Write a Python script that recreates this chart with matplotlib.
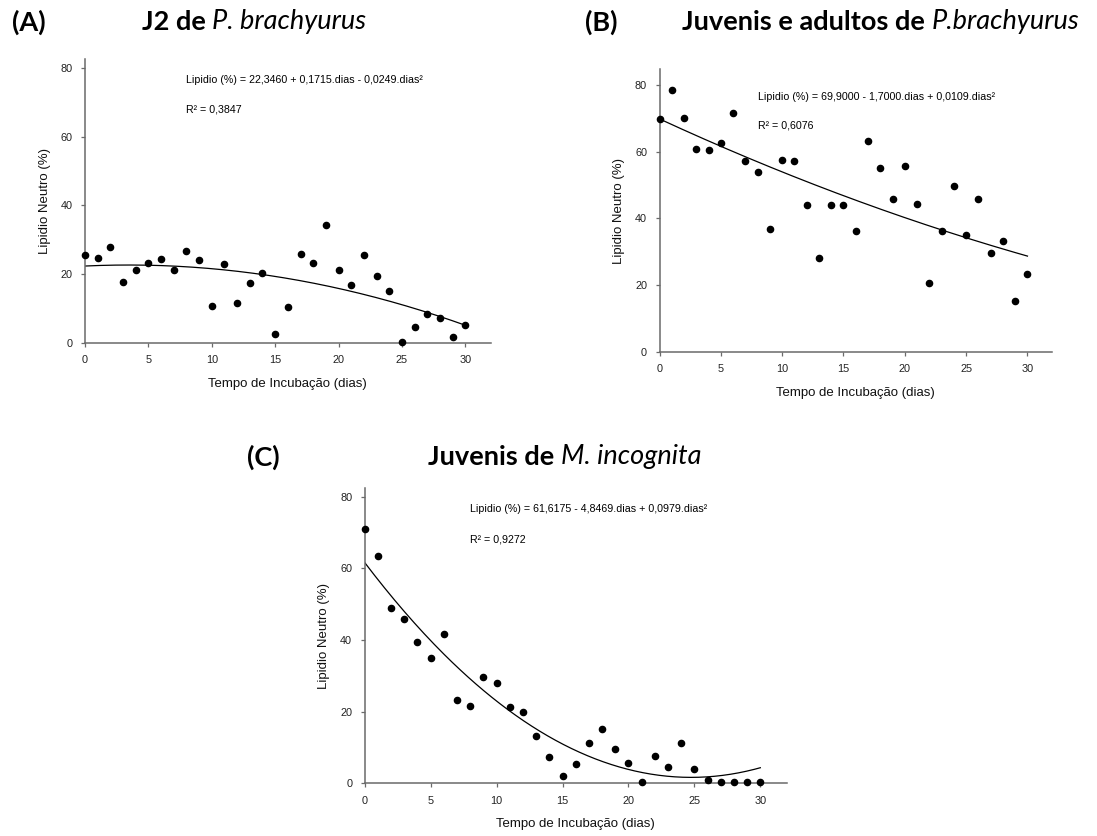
import numpy as np
import matplotlib
matplotlib.use('Agg')
import matplotlib.pyplot as plt

plt.rcParams['font.family'] = ['Liberation Sans', 'DejaVu Sans']

# ---- data ----
dias = np.arange(0, 31)

lip_a = [25.7, 24.7, 28.0, 17.7, 21.1, 23.2, 24.3, 21.1, 26.7, 24.1, 10.6,
         23.0, 11.6, 17.5, 20.4, 2.6, 10.4, 25.8, 23.3, 34.2, 21.2, 16.7,
         25.7, 19.3, 15.1, 0.2, 4.5, 8.5, 7.3, 1.8, 5.3]
lip_b = [69.8, 78.7, 70.2, 60.8, 60.6, 62.6, 71.7, 57.4, 54.0, 36.7, 57.7,
         57.4, 44.1, 28.2, 44.1, 44.1, 36.1, 63.2, 55.2, 45.8, 55.8, 44.3,
         20.6, 36.1, 49.8, 34.9, 45.9, 29.7, 33.1, 15.3, 23.2]
lip_c = [70.9, 63.4, 48.8, 45.9, 39.3, 34.9, 41.6, 23.2, 21.6, 29.7, 27.9,
         21.2, 19.8, 13.2, 7.2, 2.1, 5.4, 11.2, 15.0, 9.6, 5.6, 0.2,
         7.6, 4.5, 11.2, 4.1, 1.0, 0.2, 0.2, 0.2, 0.2]

# fitted quadratic coefficients (b0, b1, b2) printed on the chart
coef_a = [22.3460, 0.1715, -0.0249]
coef_b = [69.9000, -1.7000, 0.0109]
coef_c = [61.6175, -4.8469, 0.0979]

eq_a = 'Lipidio (%) = 22,3460 + 0,1715.dias - 0,0249.dias\u00b2'
eq_b = 'Lipidio (%) = 69,9000 - 1,7000.dias + 0,0109.dias\u00b2'
eq_c = 'Lipidio (%) = 61,6175 - 4,8469.dias + 0,0979.dias\u00b2'
r2_a = 'R\u00b2 = 0,3847'
r2_b = 'R\u00b2 = 0,6076'
r2_c = 'R\u00b2 = 0,9272'

W, H = 1097, 836
fig = plt.figure(figsize=(W / 100, H / 100), dpi=100)


def make_axes(left, right, bottom, top):
    return fig.add_axes([left / W, 1 - bottom / H, (right - left) / W, (bottom - top) / H])


def panel(ax, y, coef, eq, r2, ytop):
    xx = np.linspace(0, 30, 200)
    fit = coef[0] + coef[1] * xx + coef[2] * xx ** 2
    ax.plot(xx, fit, color='black', lw=0.9, zorder=2)
    ax.scatter(dias, y, s=20, color='black', zorder=3, clip_on=False)
    ax.set_xlim(0, 32)
    ax.set_ylim(0, ytop)
    ax.set_xticks([0, 5, 10, 15, 20, 25, 30])
    ax.set_yticks([0, 20, 40, 60, 80])
    for s in ['top', 'right']:
        ax.spines[s].set_visible(False)
    for s in ['left', 'bottom']:
        ax.spines[s].set_color('#6a6a6a')
        ax.spines[s].set_linewidth(1.1)
    ax.tick_params(direction='out', length=3, width=0.9, color='#6a6a6a',
                   labelsize=7.8, labelcolor='#222222', pad=6)
    ax.set_xlabel('Tempo de Incubação (dias)', fontsize=9.5, labelpad=9, color='#111111')
    ax.set_ylabel('Lipidio Neutro (%)', fontsize=9.5, labelpad=7, color='#111111')
    ax.text(8, 76.5, eq, fontsize=7.7, va='center', ha='left')
    ax.text(8, 68, r2, fontsize=7.7, va='center', ha='left')


ax_a = make_axes(85, 490.7, 342.7, 59.3)
panel(ax_a, lip_a, coef_a, eq_a, r2_a, 82.6)

ax_b = make_axes(659.5, 1052, 351.7, 69.3)
panel(ax_b, lip_b, coef_b, eq_b, r2_b, 84.8)

ax_c = make_axes(364.7, 786.7, 783.2, 488.5)
panel(ax_c, lip_c, coef_c, eq_c, r2_c, 82.3)

# ---- panel titles: bold part + italic species name ----
title_font = ['Lato', 'DejaVu Sans']
tsize = 19.5


def title(x_lab, label, x_txt, y, bold_part, ital_part):
    fig.text(x_lab / W, 1 - y / H, label, fontsize=tsize, fontweight='bold',
             family=title_font, va='center', ha='left')
    t1 = fig.text(x_txt / W, 1 - y / H, bold_part, fontsize=tsize, fontweight='bold',
                  family=title_font, va='center', ha='left')
    fig.axes[0].annotate(ital_part, xy=(1, 0), xycoords=t1, fontsize=tsize,
                         style='italic', family=title_font, va='bottom', ha='left',
                         annotation_clip=False)


title(12, '(A)', 142, 22, 'J2 de ', 'P. brachyurus')
title(585, '(B)', 682, 22, 'Juvenis e adultos de ', 'P.brachyurus')
title(247, '(C)', 428, 457, 'Juvenis de ', 'M. incognita')

fig.savefig('out.png', dpi=100)
